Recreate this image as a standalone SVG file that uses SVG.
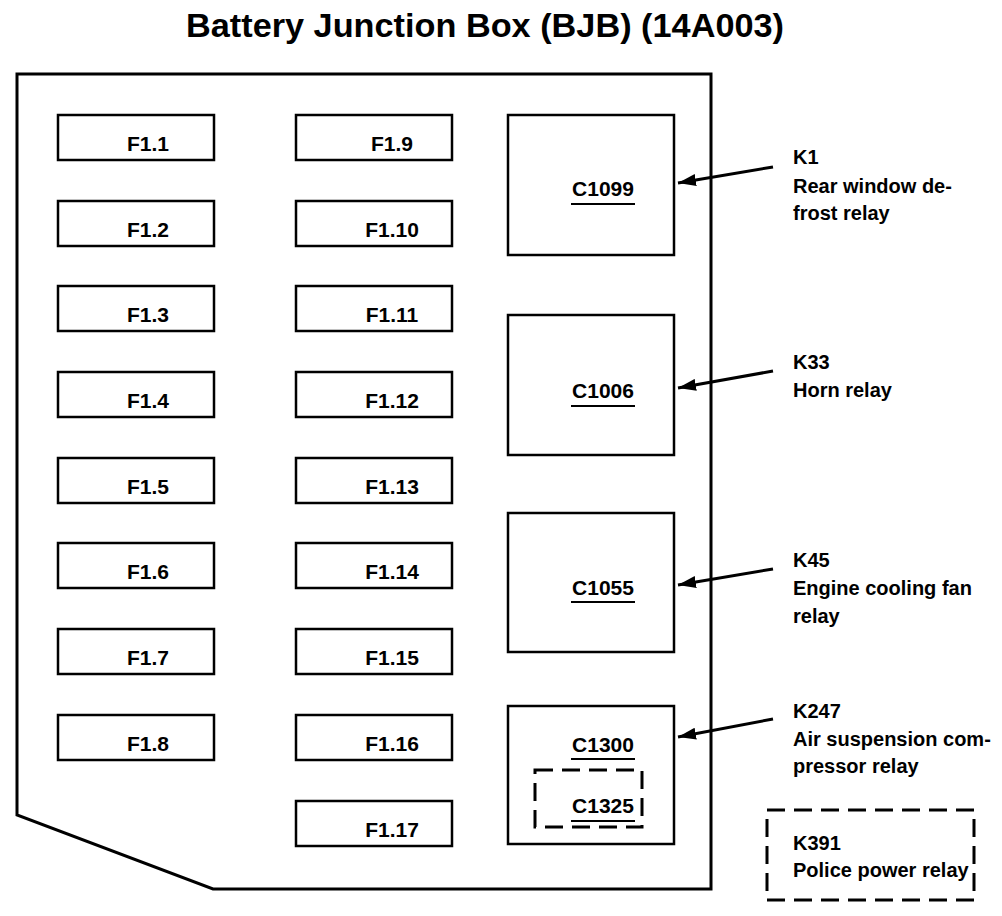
<svg xmlns="http://www.w3.org/2000/svg" width="1002" height="916" viewBox="0 0 1002 916">
<style>
  .t { font-family: "Liberation Sans", Arial, Helvetica, sans-serif; font-weight: bold; fill: #000; }
  .title { font-size: 33px; }
  .fl { font-size: 21px; text-anchor: middle; }
  .cl { font-size: 21px; text-anchor: middle; }
  .sl { font-size: 20px; }
  .box { fill: #fff; stroke: #000; stroke-width: 2.5; }
  .dash { fill: none; stroke: #000; stroke-width: 3; stroke-dasharray: 18 9; }
  .ul { stroke: #000; stroke-width: 2; }
  .arr { stroke: #000; stroke-width: 3; fill: none; marker-end: url(#ah); }
</style>
<defs>
  <marker id="ah" markerUnits="userSpaceOnUse" markerWidth="20" markerHeight="12" refX="18" refY="6" orient="auto">
    <path d="M0,0 L18,6 L0,12 Z" fill="#000"/>
  </marker>
</defs>
<rect width="1002" height="916" fill="#fff"/>
<text class="t title" x="485" y="37" text-anchor="middle" textLength="598" lengthAdjust="spacingAndGlyphs">Battery Junction Box (BJB) (14A003)</text>

<g id="housing">
  <path d="M17,74 L711,74 L711,889 L213,889 L17,815 Z" fill="none" stroke="#000" stroke-width="3" stroke-linejoin="miter"/>
</g>

<g id="F1.1"><rect class="box" x="58" y="115" width="156" height="45"/><text class="t fl" x="148" y="151">F1.1</text></g>
<g id="F1.2"><rect class="box" x="58" y="201" width="156" height="45"/><text class="t fl" x="148" y="237">F1.2</text></g>
<g id="F1.3"><rect class="box" x="58" y="286" width="156" height="45"/><text class="t fl" x="148" y="322">F1.3</text></g>
<g id="F1.4"><rect class="box" x="58" y="372" width="156" height="45"/><text class="t fl" x="148" y="408">F1.4</text></g>
<g id="F1.5"><rect class="box" x="58" y="458" width="156" height="45"/><text class="t fl" x="148" y="494">F1.5</text></g>
<g id="F1.6"><rect class="box" x="58" y="543" width="156" height="45"/><text class="t fl" x="148" y="579">F1.6</text></g>
<g id="F1.7"><rect class="box" x="58" y="629" width="156" height="45"/><text class="t fl" x="148" y="665">F1.7</text></g>
<g id="F1.8"><rect class="box" x="58" y="715" width="156" height="45"/><text class="t fl" x="148" y="751">F1.8</text></g>

<g id="F1.9"><rect class="box" x="296" y="115" width="156" height="45"/><text class="t fl" x="392" y="151">F1.9</text></g>
<g id="F1.10"><rect class="box" x="296" y="201" width="156" height="45"/><text class="t fl" x="392" y="237">F1.10</text></g>
<g id="F1.11"><rect class="box" x="296" y="286" width="156" height="45"/><text class="t fl" x="392" y="322">F1.11</text></g>
<g id="F1.12"><rect class="box" x="296" y="372" width="156" height="45"/><text class="t fl" x="392" y="408">F1.12</text></g>
<g id="F1.13"><rect class="box" x="296" y="458" width="156" height="45"/><text class="t fl" x="392" y="494">F1.13</text></g>
<g id="F1.14"><rect class="box" x="296" y="543" width="156" height="45"/><text class="t fl" x="392" y="579">F1.14</text></g>
<g id="F1.15"><rect class="box" x="296" y="629" width="156" height="45"/><text class="t fl" x="392" y="665">F1.15</text></g>
<g id="F1.16"><rect class="box" x="296" y="715" width="156" height="45"/><text class="t fl" x="392" y="751">F1.16</text></g>
<g id="F1.17"><rect class="box" x="296" y="801" width="156" height="45"/><text class="t fl" x="392" y="837">F1.17</text></g>

<g id="C1099"><rect class="box" x="508" y="115" width="166" height="140"/><text class="t cl" x="603" y="196">C1099</text><line class="ul" x1="571" y1="204" x2="635" y2="204"/></g>
<g id="C1006"><rect class="box" x="508" y="315" width="166" height="140"/><text class="t cl" x="603" y="398">C1006</text><line class="ul" x1="571" y1="406" x2="635" y2="406"/></g>
<g id="C1055"><rect class="box" x="508" y="513" width="166" height="139"/><text class="t cl" x="603" y="595">C1055</text><line class="ul" x1="571" y1="602" x2="635" y2="602"/></g>
<g id="C1300"><rect class="box" x="508" y="706" width="166" height="138"/><text class="t cl" x="603" y="752">C1300</text><line class="ul" x1="571" y1="759" x2="635" y2="759"/>
  <g id="C1325"><rect class="dash" x="535" y="770" width="107" height="57"/><text class="t cl" x="603" y="813">C1325</text><line class="ul" x1="571" y1="821" x2="635" y2="821"/></g>
</g>

<g id="connectors">
  <line class="arr" x1="773" y1="167" x2="678" y2="183"/>
  <line class="arr" x1="773" y1="371" x2="678" y2="388"/>
  <line class="arr" x1="773" y1="569" x2="678" y2="585"/>
  <line class="arr" x1="773" y1="719" x2="678" y2="737"/>
</g>

<g id="K1"><text class="t sl" x="793" y="164">K1</text><text class="t sl" x="793" y="193">Rear window de-</text><text class="t sl" x="793" y="220">frost relay</text></g>
<g id="K33"><text class="t sl" x="793" y="369">K33</text><text class="t sl" x="793" y="397">Horn relay</text></g>
<g id="K45"><text class="t sl" x="793" y="567">K45</text><text class="t sl" x="793" y="595">Engine cooling fan</text><text class="t sl" x="793" y="623">relay</text></g>
<g id="K247"><text class="t sl" x="793" y="718">K247</text><text class="t sl" x="793" y="746">Air suspension com-</text><text class="t sl" x="793" y="773">pressor relay</text></g>
<g id="K391"><rect class="dash" x="767" y="810" width="207" height="90"/><text class="t sl" x="793" y="850">K391</text><text class="t sl" x="793" y="877">Police power relay</text></g>
</svg>
